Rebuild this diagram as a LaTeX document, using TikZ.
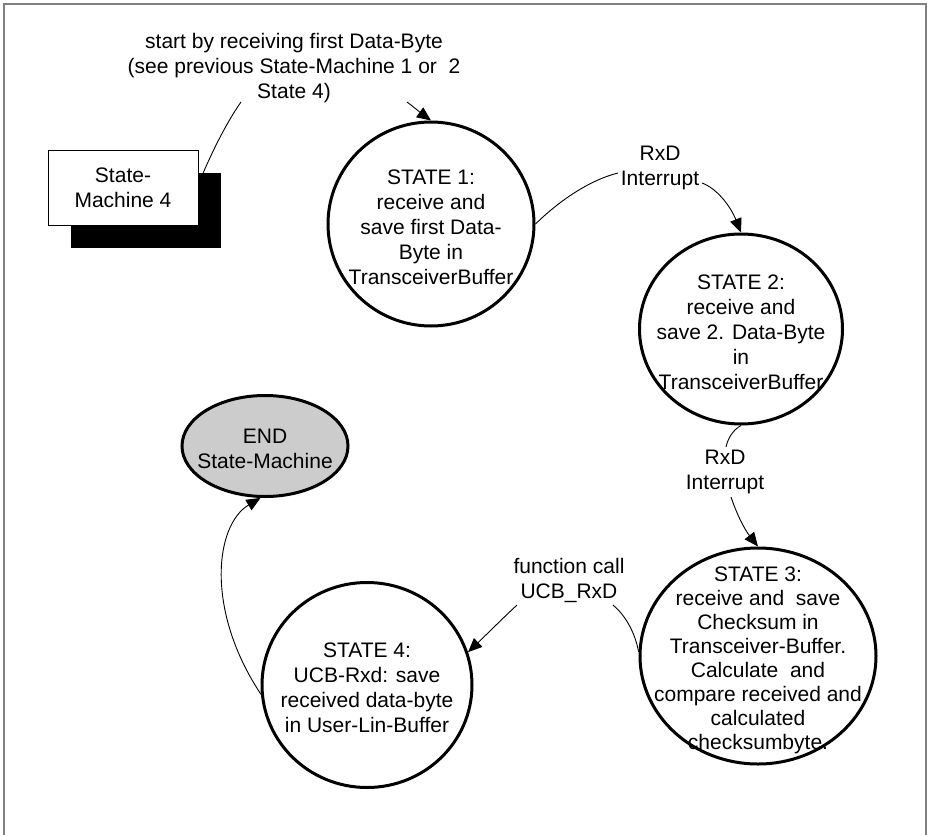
\documentclass[tikz,border=0pt]{standalone}
\usepackage{fontspec}
\setmainfont{Liberation Sans}
\usetikzlibrary{shapes.geometric,arrows.meta,calc}
\definecolor{endfill}{RGB}{204,204,204}
\definecolor{framegray}{RGB}{128,128,128}
\begin{document}
\begin{tikzpicture}[x=1pt,y=-1pt,
  txt/.style={font=\fontsize{21pt}{25pt}\selectfont, align=center, inner sep=0pt},
  inner/.style={txt, yshift=-3pt},
  statenode/.style={ellipse, draw, line width=3pt, inner sep=0pt, fill=white},
  conn/.style={line width=0.9pt},
  arr/.style={conn, -{Triangle[length=14pt,width=12pt]}},
]
\useasboundingbox (0,0) rectangle (927,835);
% open frame (no bottom edge)
\draw[framegray, line width=1.8pt] (4,835) -- (4,4) -- (926,4) -- (926,835);

% external state machine box with its shadow
\node[fill=black, minimum width=150pt, minimum height=75pt, inner sep=0pt] (shadow) at (146,210.5) {};
\node[draw, fill=white, line width=1pt, minimum width=150pt, minimum height=75pt, txt] (sm4) at (123,187.5) {State-\\Machine 4};

% states
\node[statenode, minimum width=206pt, minimum height=204pt,
  label={[inner]center:{STATE 1:\\receive and\\save first Data-\\Byte in\\TransceiverBuffer}}] (s1) at (431,224) {};
\node[statenode, minimum width=203pt, minimum height=190pt,
  label={[inner]center:{STATE 2:\\receive and\\save 2. Data-Byte\\in\\TransceiverBuffer}}] (s2) at (741,329) {};
\node[statenode, minimum width=236pt, minimum height=216pt,
  label={[txt, font=\fontsize{21pt}{24pt}\selectfont, yshift=-4pt]center:{STATE 3:\\receive and\ \ save\\Checksum in\\Transceiver-Buffer.\\Calculate\ \ and\\compare received and\\calculated\\checksumbyte.}}] (s3) at (758,656) {};
\node[statenode, minimum width=210pt, minimum height=205pt,
  label={[inner]center:{STATE 4:\\UCB-Rxd: save\\received data-byte\\in User-Lin-Buffer}}] (s4) at (367,685) {};
\node[statenode, fill=endfill, minimum width=166pt, minimum height=101pt,
  label={[inner]center:{END\\State-Machine}}] (endst) at (265,446) {};

% transition labels
\node[txt] (startlbl) at (294,68) {start by receiving first Data-Byte\\(see previous State-Machine 1 or\ \ 2\\State 4)};
\node[txt] (int1) at (660,168) {RxD\\Interrupt};
\node[txt] (int2) at (725,472) {RxD\\Interrupt};
\node[txt] (fcall) at (569,580) {function call\\UCB\_RxD};

% attachment points of the connectors at their labels
\coordinate (startin)  at (241,102);
\coordinate (startout) at (407,102);
\coordinate (int1in)   at (618,173);
\coordinate (int1out)  at (702,183);
\coordinate (int2in)   at (726,447);
\coordinate (int2out)  at (731,497);
\coordinate (fcallin)  at (613,605);
\coordinate (fcallout) at (517,605);
\coordinate (boxout)   at ($(shadow.north east)+(-18,0)$);

% transitions
\draw[conn] (boxout) .. controls (214,148) and (227,122) .. (startin);
\draw[arr] (startout) .. controls (415,108) and (422,114) .. (s1.north);

\draw[conn] (s1.east) .. controls (560,200) and (590,180) .. (int1in);
\draw[arr] (int1out) .. controls (716,188) and (730,205) .. (s2.north);

\draw[conn] (s2.south) .. controls (733,430) and (728,438) .. (int2in);
\draw[arr] (int2out) .. controls (737,515) and (745,530) .. (s3.north);

\draw[conn] (s3.178) .. controls (635,632) and (625,615) .. (fcallin);
\draw[arr] (fcallout) .. controls (502,619) and (487,634) .. (s4.18);

\draw[arr] (s4.185) .. controls (205,610) and (215,525) .. (endst.265);
\end{tikzpicture}
\end{document}
